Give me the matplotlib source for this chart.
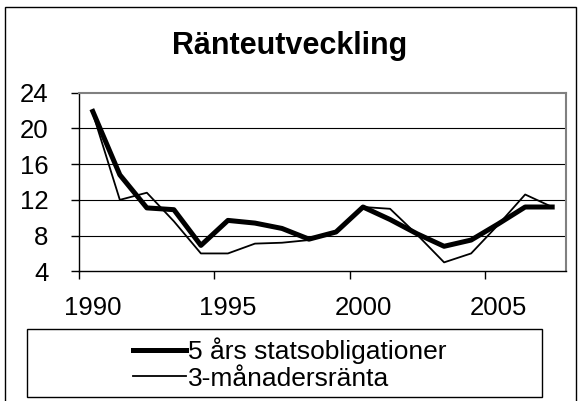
import matplotlib
matplotlib.use("Agg")
import matplotlib.pyplot as plt
from matplotlib.patches import Rectangle

plt.rcParams['font.family'] = ['Liberation Sans', 'DejaVu Sans']

years = list(range(1990, 2008))
bond5 = [21.9, 14.8, 11.1, 10.9, 6.9, 9.7, 9.4, 8.8, 7.6, 8.4, 11.2, 9.8, 8.2, 6.8, 7.5, 9.3, 11.2, 11.2]
rate3m = [21.7, 12.0, 12.8, 9.6, 6.0, 6.0, 7.1, 7.2, 7.5, 8.4, 11.2, 11.0, 8.1, 5.0, 6.0, 9.2, 12.6, 11.2]
label_bond = "5 års statsobligationer"
label_rate = "3-månadersränta"
title = "Ränteutveckling"
yticks = [4, 8, 12, 16, 20, 24]
xlabel_years = [1990, 1995, 2000, 2005]

W, H = 581, 401
fig = plt.figure(figsize=(W / 100, H / 100), dpi=100)
ax = fig.add_axes([79.3 / W, 1 - 271.3 / H, (565.7 - 79.3) / W, (271.3 - 92.7) / H])

l1, = ax.plot(years, bond5, color='black', lw=3.6, solid_joinstyle='round', label=label_bond, zorder=3)
l2, = ax.plot(years, rate3m, color='black', lw=1.3, label=label_rate, zorder=3)

ax.set_xlim(years[0] - 0.5, years[-1] + 0.5)
ax.set_ylim(yticks[0], yticks[-1])
ax.set_yticks(yticks)
ax.set_yticklabels([str(v) for v in yticks])
for v in yticks[1:-1]:
    ax.axhline(v, color='black', lw=0.8, zorder=1)

# category boundary tick marks every 5 categories, labels at centres
ax.set_xticks([y - 0.5 for y in xlabel_years])
ax.set_xticklabels([''] * len(xlabel_years))
ax.set_xticks(xlabel_years, minor=True)
ax.set_xticklabels([str(y) for y in xlabel_years], minor=True)
ax.tick_params(axis='x', which='major', length=6, width=1, direction='out', color='black')
ax.tick_params(axis='x', which='minor', length=0, pad=18, labelsize=18.5)
ax.tick_params(axis='y', length=6, width=1, direction='out', pad=16, labelsize=18.5)

for s in ['left', 'bottom']:
    ax.spines[s].set_color('black')
    ax.spines[s].set_linewidth(1)
for s in ['top', 'right']:
    ax.spines[s].set_color('#808080')
    ax.spines[s].set_linewidth(1.5)

fig.text(290 / W, 1 - 46 / H, title, ha='center', va='center', fontsize=22, fontweight='bold')

# legend box
fig.patches.append(Rectangle((27 / W, 1 - 397 / H), (542 - 27) / W, (397 - 329) / H,
                             transform=fig.transFigure, fill=False, edgecolor='black', lw=1))
fig.legend(handles=[l1, l2], loc='center', bbox_to_anchor=(290 / W, 1 - 364 / H),
           frameon=False, fontsize=19, handlelength=2.0, handletextpad=0.1, labelspacing=0.1,
           borderpad=0)

# outer chart frame
fig.patches.append(Rectangle((5 / W, -0.01), (576 - 5) / W, 1 - 7 / H + 0.01,
                             transform=fig.transFigure, fill=False, edgecolor='black', lw=1))

fig.savefig('out.png', dpi=100)
